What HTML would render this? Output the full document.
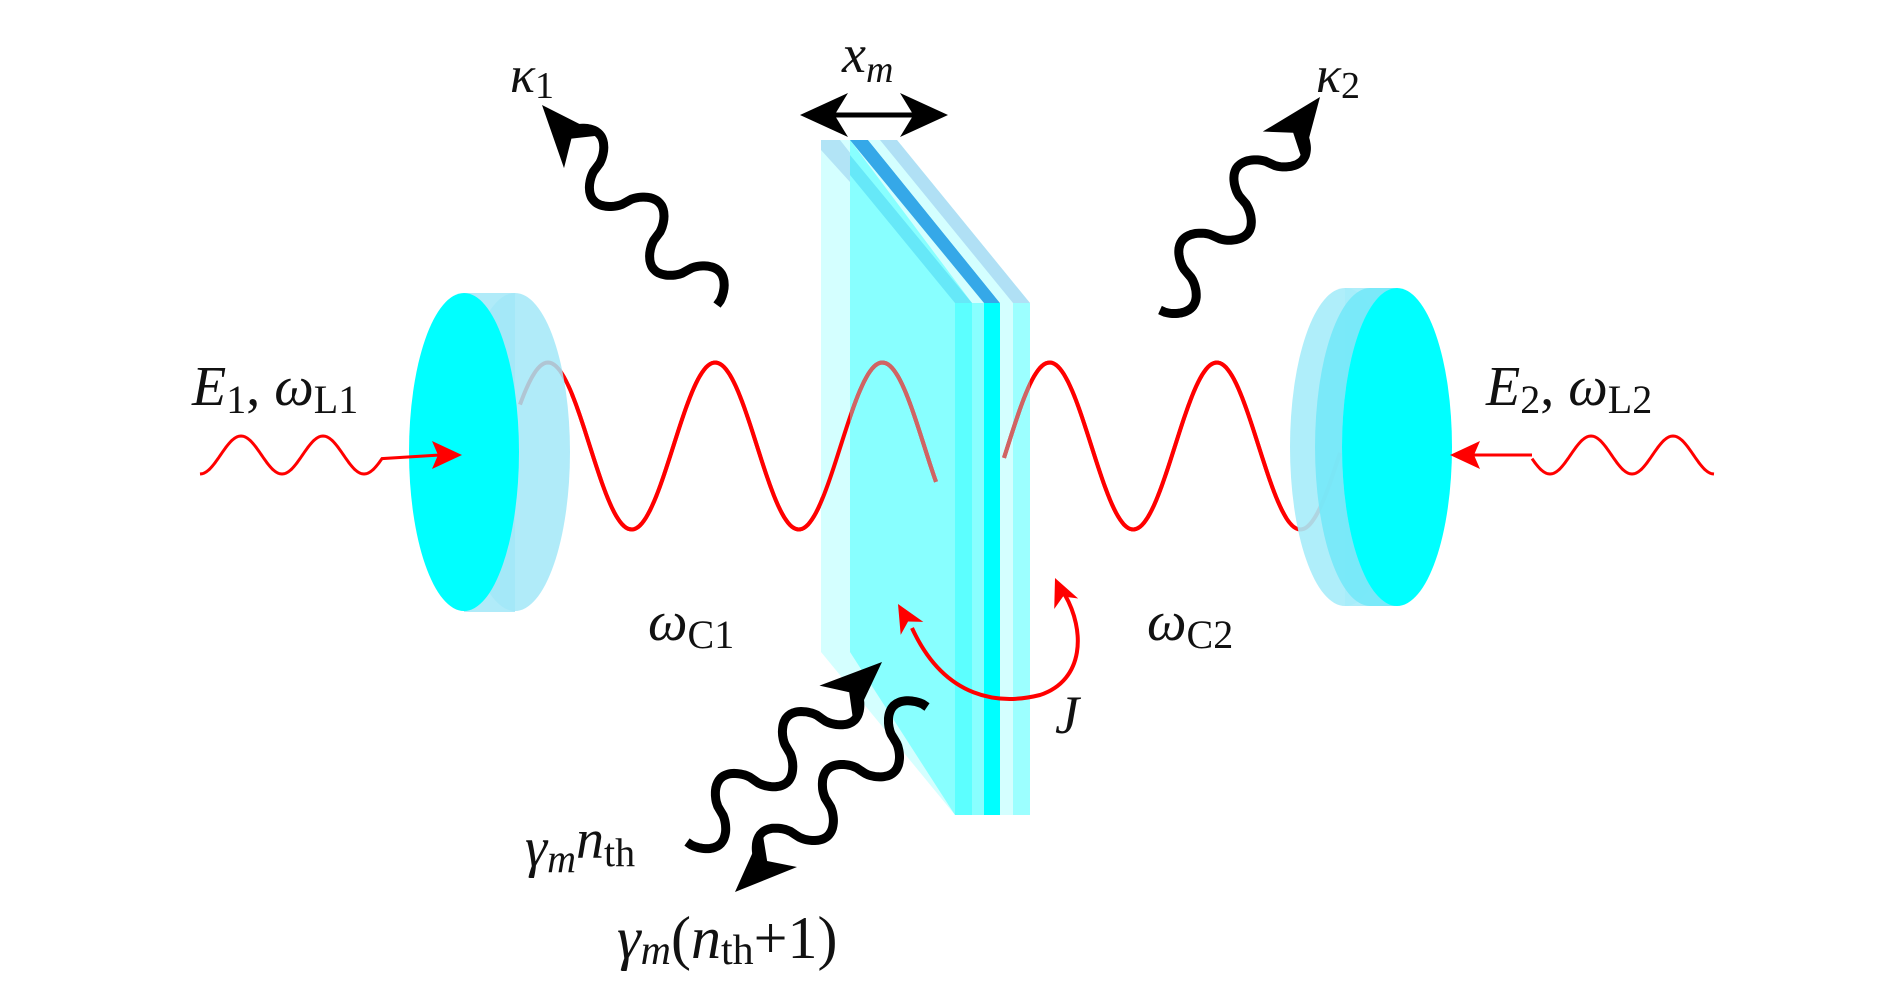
<!DOCTYPE html>
<html><head><meta charset="utf-8">
<style>
html,body{margin:0;padding:0;background:#fff;}
svg{display:block}
text{font-family:"Liberation Serif",serif;fill:#111;}
.i{font-style:italic}
</style></head>
<body>
<svg id="s" width="1890" height="993" viewBox="0 0 1890 993" xmlns="http://www.w3.org/2000/svg">
<defs>
<clipPath id="memclip"><polygon points="850,140 955,303 955,815 850,652"/><rect x="1000" y="303" width="30" height="512"/></clipPath>
<clipPath id="outclip"><rect x="570" y="0" width="718" height="993"/></clipPath>
</defs>
<g id="waves"></g>
<!-- left mirror -->
<rect x="464" y="293" width="51" height="319" fill="#a2e8f8" opacity="0.85"/>
<ellipse cx="515" cy="452" rx="55" ry="159" fill="#a2e8f8" opacity="0.85"/>
<ellipse cx="464" cy="452" rx="55" ry="159" fill="#00ffff"/>
<!-- right mirror -->
<rect x="1345" y="288" width="52" height="318" fill="#a6ecfa" opacity="0.9"/>
<ellipse cx="1345" cy="447" rx="55" ry="159" fill="#a6ecfa" opacity="0.9"/>
<path d="M1397,288 A55,159 0 0,0 1397,606 L1370,606 A55,159 0 0,1 1370,288 Z" fill="#74e8f8" opacity="0.9"/>
<ellipse cx="1397" cy="447" rx="55" ry="159" fill="#00ffff"/>
<!-- membrane -->
<polygon points="821,140 897,140 1030,303 1030,815 955,815 821,652" fill="#d4ffff"/>
<polygon points="821,140 840,140 862,168 850,182 821,150" fill="#b2e4f6"/>
<polygon points="850,140 972,303 972,815 955,815 850,652" fill="#88ffff"/>
<polygon points="850,155 850,175 955,303 972,303" fill="#66e8f8"/>
<polygon points="850,140 868,140 1000,303 984,303" fill="#35a8e8"/>
<polygon points="868,140 880,140 1013,303 1000,303" fill="#d4ffff"/>
<polygon points="880,140 897,140 1030,303 1013,303" fill="#b0e0f5"/>
<rect x="955" y="303" width="17" height="512" fill="#5cffff"/>
<rect x="972" y="303" width="12" height="512" fill="#88ffff"/>
<rect x="984" y="303" width="16" height="512" fill="#00ffff"/>
<rect x="1000" y="303" width="13" height="512" fill="#d4ffff"/>
<rect x="1013" y="303" width="17" height="512" fill="#9cffff"/>
<g id="over"></g>
<g id="arrows"></g>
<!-- labels -->
<text class="i" x="510" y="92" font-size="52">κ<tspan font-style="normal" font-size="38" dy="6">1</tspan></text>
<text class="i" x="1316" y="92" font-size="52">κ<tspan font-style="normal" font-size="38" dy="6">2</tspan></text>
<text class="i" x="842" y="72" font-size="54">x<tspan font-size="38" dy="10">m</tspan></text>
<text x="192" y="405" font-size="56"><tspan class="i">E</tspan><tspan font-size="40" dy="8">1</tspan><tspan dy="-8">, </tspan><tspan class="i">ω</tspan><tspan font-size="40" dy="8">L1</tspan></text>
<text x="1486" y="405" font-size="56"><tspan class="i">E</tspan><tspan font-size="40" dy="8">2</tspan><tspan dy="-8">, </tspan><tspan class="i">ω</tspan><tspan font-size="40" dy="8">L2</tspan></text>
<text x="648" y="640" font-size="56"><tspan class="i">ω</tspan><tspan font-size="40" dy="8">C1</tspan></text>
<text x="1147" y="640" font-size="56"><tspan class="i">ω</tspan><tspan font-size="40" dy="8">C2</tspan></text>
<text class="i" x="1055" y="733" font-size="54">J</text>
<text x="525" y="866" font-size="56"><tspan class="i">γ</tspan><tspan class="i" font-size="40" dy="6">m</tspan><tspan class="i" dy="-14">n</tspan><tspan font-size="40" dy="8">th</tspan></text>
<text x="617" y="958" font-size="60"><tspan class="i">γ</tspan><tspan class="i" font-size="42" dy="6">m</tspan><tspan dy="-6">(</tspan><tspan class="i">n</tspan><tspan font-size="42" dy="6">th</tspan><tspan dy="-6">+1)</tspan></text>
</svg>
<script>
var NS="http://www.w3.org/2000/svg";
function el(p,tag,a){var e=document.createElementNS(NS,tag);for(var k in a)e.setAttribute(k,a[k]);document.getElementById(p).appendChild(e);return e;}
function cav(x0,x1){var d="";for(var x=x0;x<=x1;x+=2){var y=446-83.5*Math.cos(2*Math.PI*(x-548)/167.2);d+=(x==x0?"M":"L")+x.toFixed(1)+","+y.toFixed(1);}return d;}
var c1=cav(520,936),c2=cav(1004,1341);
el("waves","path",{d:c1,fill:"none",stroke:"#ff0000","stroke-width":4});
el("waves","path",{d:c2,fill:"none",stroke:"#ff0000","stroke-width":4});
el("over","path",{d:c1,fill:"none",stroke:"#ff0000","stroke-width":4,"clip-path":"url(#outclip)"});
el("over","path",{d:c2,fill:"none",stroke:"#ff0000","stroke-width":4,"clip-path":"url(#outclip)"});
el("over","path",{d:c1,fill:"none",stroke:"#d06464","stroke-width":4,"clip-path":"url(#memclip)"});
el("over","path",{d:c2,fill:"none",stroke:"#d06464","stroke-width":4,"clip-path":"url(#memclip)"});
function inw(xa,xb,dir){var d="";for(var x=xa;x<=xb;x+=1){var t=dir>0?(x-xa):(xb-x);var y=455+19*Math.cos(2*Math.PI*t/82);d+=(x==xa?"M":"L")+x+","+y.toFixed(1);}return d;}
el("arrows","path",{d:inw(200,382,1)+" L440,455",fill:"none",stroke:"#ff0000","stroke-width":3});
el("arrows","polygon",{points:"462,455 432,441 438,455 432,469",fill:"#ff0000"});
el("arrows","path",{d:inw(1532,1714,-1)+" M1532,455 L1472,455",fill:"none",stroke:"#ff0000","stroke-width":3});
el("arrows","polygon",{points:"1450,455 1480,441 1474,455 1480,469",fill:"#ff0000"});
function head(tx,ty,ux,uy,L,W,col){var nx=-uy,ny=ux;var bx=tx-ux*L,by=ty-uy*L;var ix=tx-ux*L*0.72,iy=ty-uy*L*0.72;
 return el("arrows","polygon",{points:tx+","+ty+" "+(bx+nx*W/2)+","+(by+ny*W/2)+" "+ix+","+iy+" "+(bx-nx*W/2)+","+(by-ny*W/2),fill:col});}
function wavy(sx,sy,tx,ty,n,A){var dx=tx-sx,dy=ty-sy,L=Math.hypot(dx,dy),ux=dx/L,uy=dy/L,nx=-uy,ny=ux;var H=62,Lw=L-H*0.6;var d="";
 for(var i=0;i<=200;i++){var t=i/200*Lw;var s=Math.sin(2*Math.PI*n*t/Lw);s=Math.sign(s)*Math.pow(Math.abs(s),0.6);var o=A*s;var x=sx+ux*t+nx*o,y=sy+uy*t+ny*o;d+=(i?"L":"M")+x.toFixed(1)+","+y.toFixed(1);}
 el("arrows","path",{d:d,fill:"none",stroke:"#000","stroke-width":9,"stroke-linecap":"butt"});head(tx,ty,ux,uy,H,50,"#000");}
wavy(717,305,542,105,2.5,24);
wavy(1160,310,1320,97,2.5,24);
wavy(687,842,882,662,2.5,24);
wavy(927,707,735,892,2.5,24);
el("arrows","line",{x1:830,y1:115,x2:918,y2:115,stroke:"#000","stroke-width":5});
head(800,115,-1,0,48,44,"#000");head(948,115,1,0,48,44,"#000");
el("arrows","path",{d:"M912,628 C945,700 1000,705 1040,695 C1085,680 1085,630 1065,595",fill:"none",stroke:"#ff0000","stroke-width":4});
head(898,604,-0.5,-0.87,28,26,"#ff0000");head(1055,578,-0.4,-0.92,28,26,"#ff0000");
</script>
</body></html>
